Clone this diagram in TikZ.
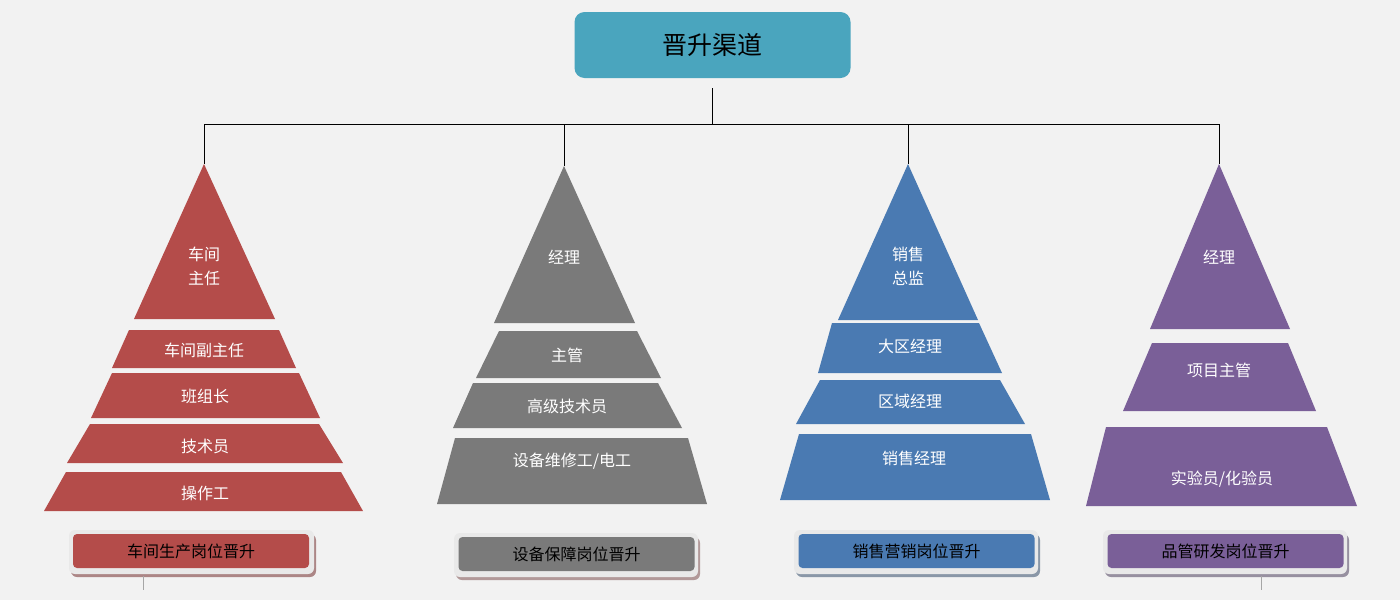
\documentclass[tikz,border=0pt]{standalone}
\usepackage{fontspec}
\setmainfont{Noto Sans CJK SC}
\usetikzlibrary{calc}
\definecolor{bg}{HTML}{F2F2F2}
\definecolor{pred}{HTML}{B44C4A}
\definecolor{pgray}{HTML}{7A7A7A}
\definecolor{pblue}{HTML}{4A7AB2}
\definecolor{ppurple}{HTML}{7A5F98}
\definecolor{pteal}{HTML}{4AA5BE}
\definecolor{frame}{HTML}{E9E9E9}
\tikzset{
  ptext/.style={text=white, font=\fontsize{16}{24}\selectfont, align=center, inner sep=0pt},
  lbl/.style={rounded corners=4pt, minimum width=236pt, minimum height=34pt, inner sep=0pt,
              text=black, font=\fontsize{16}{20}\selectfont},
  conn/.style={draw=black, line width=0.9pt},
  stub/.style={draw=gray!70, line width=0.6pt},
  titlebox/.style={fill=pteal, rounded corners=10pt, minimum width=276pt, minimum height=66pt,
              inner sep=0pt, font=\fontsize{25}{30}\selectfont, text=black}
}
\begin{document}
\begin{tikzpicture}[x=1pt,y=-1pt]
\useasboundingbox (0,0) rectangle (1400,600);
\fill[bg] (0,0) rectangle (1400,600);

% title
\node[titlebox] (T) at (712.5,45) {晋升渠道};

% apex coordinates
\coordinate (A1) at (204,164);
\coordinate (A2) at (564,166);
\coordinate (A3) at (908,164);
\coordinate (A4) at (1219,164);
\coordinate (J) at (712.5,124);

% connectors
\draw[conn] ([yshift=-10pt]T.south) -- (T.south |- J);
\draw[conn] (A1 |- J) -- (A4 |- J);
\draw[conn] (A1 |- J) -- (A1);
\draw[conn] (A2 |- J) -- (A2);
\draw[conn] (A3 |- J) -- (A3);
\draw[conn] (A4 |- J) -- (A4);

% ---- red pyramid
\fill[pred] (A1) -- (275,319) -- (134,319) -- cycle;
\fill[pred] (129,330) -- (279,330) -- (296,368) -- (112,368) -- cycle;
\fill[pred] (112,373) -- (299,373) -- (320,418) -- (91,418) -- cycle;
\fill[pred] (90,424) -- (319,424) -- (343,463) -- (67,463) -- cycle;
\fill[pred] (66,472) -- (341,472) -- (363,511) -- (44,511) -- cycle;
\node[ptext] (r1) at (204,266) {车间\\主任};
\node[ptext] (r2) at (204,350) {车间副主任};
\node[ptext] (r3) at (205,396) {班组长};
\node[ptext] (r4) at (205,446) {技术员};
\node[ptext] (r5) at (205,493) {操作工};

% ---- gray pyramid
\fill[pgray] (A2) -- (635,323) -- (494,323) -- cycle;
\fill[pgray] (499,331) -- (637,331) -- (661,378) -- (476,378) -- cycle;
\fill[pgray] (473,383) -- (658,383) -- (682,428) -- (453,428) -- cycle;
\fill[pgray] (455,438) -- (688,438) -- (707,504) -- (437,504) -- cycle;
\node[ptext] (g1) at (564,257) {经理};
\node[ptext] (g2) at (567,355) {主管};
\node[ptext] (g3) at (567,406) {高级技术员};
\node[ptext] (g4) at (572,461) {设备维修工/电工};

% ---- blue pyramid
\fill[pblue] (A3) -- (978,320) -- (838,320) -- cycle;
\fill[pblue] (832,323) -- (979,323) -- (1002,373) -- (818,373) -- cycle;
\fill[pblue] (820,380) -- (1000,380) -- (1025,424) -- (796,424) -- cycle;
\fill[pblue] (799,434) -- (1031,434) -- (1050,500) -- (780,500) -- cycle;
\node[ptext] (b1) at (908,266) {销售\\总监};
\node[ptext] (b2) at (910,346) {大区经理};
\node[ptext] (b3) at (910,401) {区域经理};
\node[ptext] (b4) at (914,458) {销售经理};

% ---- purple pyramid
\fill[ppurple] (A4) -- (1290,329) -- (1150,329) -- cycle;
\fill[ppurple] (1152,343) -- (1288,343) -- (1316,411) -- (1123,411) -- cycle;
\fill[ppurple] (1106,427) -- (1327,427) -- (1357,506) -- (1086,506) -- cycle;
\node[ptext] (v1) at (1219,257) {经理};
\node[ptext] (v2) at (1219,370) {项目主管};
\node[ptext] (v3) at (1222,479) {实验员/化验员};

% ---- label boxes
\fill[rounded corners=6pt, pred!45!gray!80] (71,534) rectangle (316,577);
\fill[rounded corners=6pt, frame] (69,530) rectangle (314,574);
\node[lbl, fill=pred] (L1) at (191,551) {车间生产岗位晋升};

\fill[rounded corners=6pt, pred!35!gray!70] (456,537) rectangle (700,580);
\fill[rounded corners=6pt, frame] (454,533) rectangle (698,577);
\node[lbl, fill=pgray] (L2) at (576.5,554) {设备保障岗位晋升};

\fill[rounded corners=6pt, pblue!35!gray!80] (796,534) rectangle (1040,577);
\fill[rounded corners=6pt, frame] (794,530) rectangle (1038,574);
\node[lbl, fill=pblue] (L3) at (916.5,551) {销售营销岗位晋升};

\fill[rounded corners=6pt, ppurple!35!gray!80] (1105,534) rectangle (1349,577);
\fill[rounded corners=6pt, frame] (1103,530) rectangle (1347,574);
\node[lbl, fill=ppurple] (L4) at (1225.5,551) {品管研发岗位晋升};

% stubs below labels
\coordinate (s1) at (143,590);
\coordinate (s4) at (1261,590);
\draw[stub] (s1 |- 0,576) -- (s1);
\draw[stub] (s4 |- 0,576) -- (s4);
\end{tikzpicture}
\end{document}
